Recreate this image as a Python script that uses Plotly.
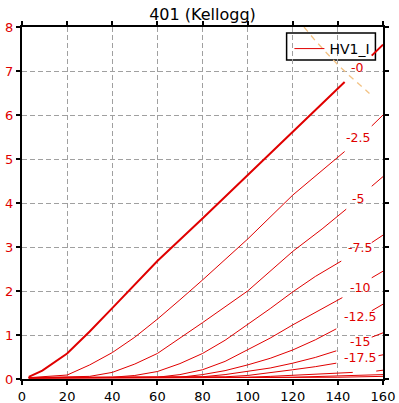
import plotly.graph_objects as go

# Plate curves of tube 401 (Kellogg): plate voltage (V) vs plate current (mA)
# None marks the gap where the grid-voltage label sits
grid_labels = ["-0", "-2.5", "-5", "-7.5", "-10", "-12.5", "-15", "-17.5"]

v_g0 = [3, 9, 20, 30, 40, 60, 80, 100, 120, 143, None, 155, 160]
i_g0 = [0.05, 0.19, 0.58, 1.08, 1.61, 2.68, 3.65, 4.63, 5.63, 6.75, None, 7.35, 7.6]

v_g25 = [3, 20, 30, 40, 50, 60, 70, 80, 100, 120, 143, None, 155, 160]
i_g25 = [0.03, 0.09, 0.32, 0.6, 0.95, 1.36, 1.8, 2.25, 3.18, 4.18, 5.17, None, 5.75, 6.0]

v_g5 = [3, 30, 40, 50, 60, 70, 80, 100, 120, 133, 143.7, None, 155, 160]
i_g5 = [0.03, 0.06, 0.15, 0.34, 0.58, 0.92, 1.28, 2.0, 2.9, 3.41, 3.86, None, 4.38, 4.6]

v_g75 = [3, 40, 50, 60, 70, 80, 90, 100, 110, 120, 130, 141.5, None, 155, 160]
i_g75 = [0.03, 0.04, 0.08, 0.17, 0.35, 0.58, 0.88, 1.23, 1.6, 1.98, 2.33, 2.68, None, 3.1, 3.27]

v_g10 = [3, 60, 70, 80, 90, 100, 110, 120, 130, 142, None, 155, 160]
i_g10 = [0.03, 0.04, 0.1, 0.21, 0.4, 0.66, 0.93, 1.23, 1.52, 1.85, None, 2.3, 2.45]

v_g125 = [3, 70, 80, 90, 100, 110, 120, 130, 139.3, None, 155, 160]
i_g125 = [0.03, 0.04, 0.1, 0.19, 0.32, 0.47, 0.66, 0.89, 1.14, None, 1.55, 1.7]

v_g15 = [3, 80, 90, 100, 110, 120, 130, 139.3, None, 155, 160]
i_g15 = [0.03, 0.05, 0.1, 0.17, 0.25, 0.36, 0.49, 0.64, None, 0.95, 1.05]

v_g175 = [3, 90, 100, 110, 120, 130, 139.3, None, 158, 160]
i_g175 = [0.03, 0.05, 0.08, 0.14, 0.21, 0.28, 0.36, None, 0.53, 0.55]

v_g20 = [3, 100, 110, 120, 130, 146.6, None, 157, 160]
i_g20 = [0.03, 0.04, 0.06, 0.08, 0.1, 0.15, None, 0.18, 0.2]

v_g225 = [3, 120, 140, 160]
i_g225 = [0.02, 0.04, 0.07, 0.1]

v_g25b = [3, 140, 160]
i_g25b = [0.02, 0.04, 0.06]

curves_v = [v_g0, v_g25, v_g5, v_g75, v_g10, v_g125, v_g15, v_g175, v_g20, v_g225, v_g25b]
curves_i = [i_g0, i_g25, i_g5, i_g75, i_g10, i_g125, i_g15, i_g175, i_g20, i_g225, i_g25b]

# label anchor positions (plate voltage, plate current)
label_v = [148.7, 149.1, 149.1, 149.6, 149.6, 149.6, 149.6, 149.6]
label_i = [7.07, 5.5, 4.11, 2.98, 2.09, 1.41, 0.86, 0.5]

# max plate dissipation curve
pd_v = [125, 130, 135, 140, 145, 150, 154]
pd_i = [8.0, 7.69, 7.41, 7.14, 6.9, 6.67, 6.49]

x_ticks = [0, 20, 40, 60, 80, 100, 120, 140, 160]
y_ticks = [0, 1, 2, 3, 4, 5, 6, 7, 8]

RED = "#e00000"
FONT = "DejaVu Sans"

fig = go.Figure()
for k, (vv, ii) in enumerate(zip(curves_v, curves_i)):
    fig.add_trace(go.Scatter(
        x=vv, y=ii, mode="lines",
        line=dict(color=RED, width=2 if k == 0 else 1),
        name="HV1_I", legendgroup="hv1",
        showlegend=(k == 1), connectgaps=False, hoverinfo="skip"))

fig.add_trace(go.Scatter(
    x=pd_v, y=pd_i, mode="lines",
    line=dict(color="#f3c283", width=1.3, dash="6px,5px"),
    showlegend=False, hoverinfo="skip"))

for lab, lv, li in zip(grid_labels, label_v, label_i):
    fig.add_annotation(x=lv, y=li, text=lab, showarrow=False,
                       font=dict(color=RED, size=12.5, family=FONT),
                       xanchor="center", yanchor="middle")

# legend backdrop: hides the grid but lets the traces run over it
fig.add_shape(type="rect", xref="paper", yref="paper",
              x0=0.733, x1=0.979, y0=0.906, y1=0.983,
              fillcolor="white", line=dict(color="black", width=1.5),
              layer="between")

axis_common = dict(
    showline=True, linecolor="black", linewidth=2, mirror="ticks",
    ticks="outside", ticklen=4, tickwidth=1.5, tickcolor="black",
    showgrid=True, gridcolor="#a0a0a0", gridwidth=1, griddash="5px,3px",
    zeroline=False, automargin=False,
)

fig.update_xaxes(range=[0, 160], tickvals=x_ticks,
                 tickfont=dict(color="black", size=13, family=FONT), **axis_common)
fig.update_yaxes(range=[0, 8], tickvals=y_ticks,
                 tickfont=dict(color=RED, size=13, family=FONT), **axis_common)

fig.update_layout(
    width=399, height=403,
    margin=dict(l=22, r=16, t=27, b=24, autoexpand=False),
    plot_bgcolor="white", paper_bgcolor="white",
    title=dict(text="401 (Kellogg)", x=0.5, xref="paper", xanchor="center",
               y=1 - 14 / 403, yanchor="middle",
               font=dict(size=16, color="black", family=FONT)),
    legend=dict(x=0.979, y=0.983, xanchor="right", yanchor="top",
                bgcolor="rgba(0,0,0,0)", borderwidth=0,
                font=dict(size=14, color="black", family=FONT),
                itemwidth=30),
    showlegend=True,
)

fig.write_html("out.html", config={"displayModeBar": False},
               post_script="document.body.style.margin='0';")
